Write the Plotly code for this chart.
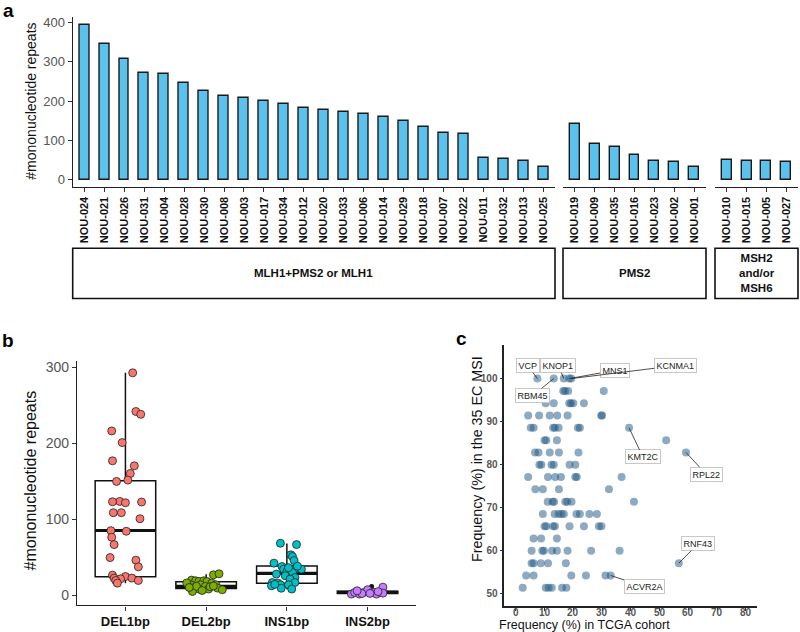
import numpy as np
import plotly.graph_objects as go

# ---------------- Panel a data ----------------
grp1_name = "MLH1+PMS2 or MLH1"
grp1_ids = ["NOU-024","NOU-021","NOU-026","NOU-031","NOU-004","NOU-028","NOU-030","NOU-008",
            "NOU-003","NOU-017","NOU-034","NOU-012","NOU-020","NOU-033","NOU-006","NOU-014",
            "NOU-029","NOU-018","NOU-007","NOU-022","NOU-011","NOU-032","NOU-013","NOU-025"]
grp1_vals = [395,346,308,273,269,247,226,212,208,201,192,182,178,173,167,159,150,133,119,117,55,52,48,31]

grp2_name = "PMS2"
grp2_ids = ["NOU-019","NOU-009","NOU-035","NOU-016","NOU-023","NOU-002","NOU-001"]
grp2_vals = [141,90,82,62,47,46,33]

grp3_name = "MSH2<br>and/or<br>MSH6"
grp3_ids = ["NOU-010","NOU-015","NOU-005","NOU-027"]
grp3_vals = [49,48,47,44]

# ---------------- Panel b data ----------------
b_cats = ["DEL1bp","DEL2bp","INS1bp","INS2bp"]
b_q1 = [24, 8.7, 15.5, 2.0]
b_med = [85, 11.5, 28.5, 3.4]
b_q3 = [150.5, 17.5, 38.3, 5.0]
b_lo = [15.7, 4.5, 7.5, 1.0]
b_hi = [292.5, 27.5, 68, 9.0]

del1_y = [292.5,241.6,237.9,216,200.7,176.7,170.1,160,151.3,149.6,123.3,122.8,122.4,121.5,108.4,108.4,
          100.5,84.8,84,76.1,66.4,49.3,45.9,37.1,26.2,24.4,22.3,22.3,21.4,19.2,19.2,15.7]
del1_dx = [0.09,0.13,0.19,-0.17,-0.04,-0.16,0.11,0.06,0.03,-0.11,-0.07,-0.16,0.20,0.00,-0.15,-0.05,
           0.18,-0.18,0.01,-0.17,-0.14,-0.19,0.13,0.16,-0.16,0.00,-0.14,0.08,-0.06,-0.12,0.16,-0.10]
del2_y = [26.6,28,19.7,18.8,17.9,18.8,17.9,15.7,13.5,13.5,13.5,11.3,9.2,7.9,7.9,9.2,7,4.7,11,11.5,16,6,12,10]
del2_dx = [0.09,0.16,-0.18,-0.13,-0.09,-0.03,0.01,0.07,0.12,-0.19,-0.07,-0.01,-0.17,-0.09,0.03,0.14,
           0.20,-0.17,0.05,-0.12,-0.24,-0.05,0.09,-0.21]
ins1_y = [68.2,66.4,52.9,50.7,45.4,42,37.5,34.1,34.1,34.1,31,29.7,27.6,25.3,23.1,21,16.5,15.7,16.5,
          13.5,12.2,13.5,7.9,9,38,36,14]
ins1_dx = [-0.08,0.12,0.05,0.07,0.09,-0.16,-0.06,0.10,0.18,-0.04,0.00,0.07,-0.13,-0.02,0.10,0.04,
           -0.18,-0.11,0.10,-0.08,-0.19,0.02,0.06,-0.07,0.13,0.02,-0.15]
ins2_y = [1.3,3.4,1.3,3.4,7,3.4,1.3,3.4,10.4,2.5,2,5.6,4.5,2.2]
ins2_dx = [-0.20,-0.16,-0.10,-0.05,0.00,0.08,0.11,0.16,0.19,0.19,-0.07,-0.13,0.13,0.03]
b_outlier_y = [11.3]

# ---------------- Panel c data ----------------
c_x = [7.5,13.2,16.7,18.6,19.3,
       16.5,17.1,18.2,30.6,
       10.4,13.2,18.6,19.2,20.0,23.7,
       4.3,8.1,11.8,14.4,18.0,29.7,30.0,
       5.2,6.2,13.0,13.6,14.9,21.6,22.3,39.4,
       10.0,10.6,14.3,52.3,
       6.7,7.9,11.8,15.0,21.8,59.2,
       8.2,8.9,12.4,13.2,18.7,20.7,
       4.3,11.2,13.7,15.7,20.7,21.2,36.8,
       6.8,9.4,15.0,32.4,
       11.1,12.8,13.3,17.2,17.9,19.4,41.1,
       9.4,13.5,14.9,15.9,16.7,21.1,22.3,25.6,28.2,
       10.0,10.6,13.0,13.6,18.7,23.7,28.9,29.8,
       6.2,8.8,14.3,
       5.5,9.2,9.8,12.6,14.3,18.0,26.2,36.1,
       5.5,6.2,8.7,11.2,17.4,56.7,
       3.6,6.2,19.3,24.4,31.2,33.0,
       2.4,10.4,11.4,12.5,16.1,17.6]
c_n = [5,4,6,7,8,4,6,6,7,4,7,9,8,3,8,6,6,6]
c_levels = [100,97.14,94.29,91.43,88.57,85.71,82.86,80,77.14,74.29,71.43,68.57,65.71,62.86,60,57.14,54.29,51.43]
c_y = [lv for lv, n in zip(c_levels, c_n) for _ in range(n)]
c_xticks = [0, 10, 20, 30, 40, 50, 60, 70, 80]
c_yticks = [50, 60, 70, 80, 90, 100]

genes = ["VCP","KNOP1","MNS1","KCNMA1","RBM45","KMT2C","RPL22","RNF43","ACVR2A"]
gene_x = [7.5,16.7,18.6,19.3,13.2,39.4,59.2,56.7,33.0]
gene_y = [100,100,100,100,100,88.57,82.86,57.14,54.29]
label_pos = [(4.2,103.0),(14.8,103.0),(34.4,101.9),(55.5,103.0),(5.9,96.1),
             (44.2,81.8),(66.2,77.8),(63.5,61.7),(44.6,51.7)]

# ---------------- Figure ----------------
W, H = 800, 632
def px(x): return x / W
def py(y): return 1 - y / H

fig = go.Figure()
BAR = "#5BC2EE"
FONT = "Liberation Sans, Arial, sans-serif"

groups = [(grp1_ids, grp1_vals, "x", (72.7, 555)),
          (grp2_ids, grp2_vals, "x2", (563, 706)),
          (grp3_ids, grp3_vals, "x3", (715, 798))]
for ids, vals, xa, _ in groups:
    fig.add_trace(go.Bar(x=ids, y=vals, xaxis=xa, yaxis="y", width=0.5,
                         marker=dict(color=BAR, line=dict(color="#1a1a1a", width=1.4)),
                         showlegend=False))
    m = float(np.mean(vals))
    n = len(ids)
    fig.add_trace(go.Scatter(x=[-0.58, n - 1 + 0.58], y=[m, m], xaxis=xa, yaxis="y",
                             mode="lines", line=dict(color="#FF3030", width=1.6, dash="7px,4.5px"),
                             showlegend=False, cliponaxis=False))

ya_dom = [py(185.8), py(15)]
axis_common = dict(showline=True, linecolor="#222", linewidth=1.3, ticks="outside",
                   ticklen=4, tickcolor="#333", showgrid=False, zeroline=False)
for (ids, vals, xa, (l, r)) in groups:
    key = "xaxis" if xa == "x" else "xaxis" + xa[1:]
    n = len(ids)
    fig.layout[key] = dict(domain=[px(l), px(r)], anchor="y", type="category",
                           range=[-0.58, n - 1 + 0.58], tickangle=-90,
                           tickfont=dict(family=FONT, size=11, color="#111", weight="bold"),
                           **axis_common)
fig.layout["yaxis"] = dict(domain=ya_dom, anchor="x", range=[-19.75, 414.75],
                           tickvals=[0, 100, 200, 300, 400],
                           tickfont=dict(family=FONT, size=13, color="#555"), **axis_common)

# strip boxes
for (ids, vals, xa, (l, r)), name in zip(groups, [grp1_name, grp2_name, grp3_name]):
    fig.add_shape(type="rect", xref="paper", yref="paper", x0=px(l), x1=px(r),
                  y0=py(297.5), y1=py(247), line=dict(color="#111", width=1.6),
                  fillcolor="white")
    fig.add_annotation(xref="paper", yref="paper", x=(px(l) + px(r)) / 2, y=py(272),
                       xanchor="center", yanchor="middle", align="center",
                       text="<b>" + name + "</b>", showarrow=False,
                       font=dict(family="Liberation Sans Narrow, " + FONT, size=11.5, color="#111"))

# ---------------- Panel b ----------------
colors_b = ["#F8766D", "#7CAE00", "#00BFC4", "#C77CFF"]
for i in range(4):
    fig.add_trace(go.Box(x=[i + 1], q1=[b_q1[i]], median=[b_med[i]], q3=[b_q3[i]],
                         lowerfence=[b_lo[i]], upperfence=[b_hi[i]], width=0.75,
                         whiskerwidth=0, fillcolor="white", boxpoints=False,
                         line=dict(color="#111", width=1.5), xaxis="x4", yaxis="y4",
                         showlegend=False, hoverinfo="skip"))
    fig.add_trace(go.Scatter(x=[i + 1 - 0.375, i + 1 + 0.375], y=[b_med[i], b_med[i]],
                             mode="lines", line=dict(color="#111", width=3.2),
                             xaxis="x4", yaxis="y4", showlegend=False))
fig.add_trace(go.Scatter(x=[4.05], y=b_outlier_y, mode="markers",
                         marker=dict(color="#111", size=5), xaxis="x4", yaxis="y4",
                         showlegend=False))
for i, (ys, dxs) in enumerate([(del1_y, del1_dx), (del2_y, del2_dx), (ins1_y, ins1_dx), (ins2_y, ins2_dx)]):
    fig.add_trace(go.Scatter(x=[i + 1 + d for d in dxs], y=ys, mode="markers",
                             marker=dict(color=colors_b[i], size=8,
                                         line=dict(color="#222", width=0.8)),
                             xaxis="x4", yaxis="y4", showlegend=False))

fig.layout["xaxis4"] = dict(domain=[px(77), px(416)], anchor="y4", range=[0.4, 4.6],
                            tickvals=[1, 2, 3, 4], ticktext=["<b>%s</b>" % c for c in b_cats],
                            tickfont=dict(family=FONT, size=13, color="#111"), **axis_common)
fig.layout["yaxis4"] = dict(domain=[py(605.3), py(360.5)], anchor="x4", range=[-13.6, 307.6],
                            tickvals=[0, 100, 200, 300],
                            tickfont=dict(family=FONT, size=14, color="#555"), **axis_common)

# ---------------- Panel c ----------------
fig.add_trace(go.Scatter(x=c_x, y=c_y, mode="markers", xaxis="x5", yaxis="y5",
                         marker=dict(color="rgba(30,85,130,0.5)", size=8, line=dict(width=0)),
                         showlegend=False))
for g, gx, gy, (lx, ly) in zip(genes, gene_x, gene_y, label_pos):
    fig.add_annotation(x=gx, y=gy, xref="x5", yref="y5", ax=lx, ay=ly, axref="x5", ayref="y5",
                       text=g, showarrow=True, arrowhead=0, arrowwidth=0.8, arrowcolor="#222",
                       bgcolor="white", bordercolor="#c8c8c8", borderwidth=1, borderpad=1.5,
                       font=dict(family=FONT, size=9, color="#222"))

c_axis = dict(axis_common)
c_axis.update(linewidth=1.6, ticklen=3)
fig.layout["xaxis5"] = dict(domain=[px(504.3), px(757.3)], anchor="y5", range=[-4, 84],
                            tickvals=c_xticks, showticklabels=False, **c_axis)
fig.layout["yaxis5"] = dict(domain=[py(605.7), py(344.3)], anchor="x5", range=[47.25, 107.75],
                            tickvals=c_yticks,
                            tickfont=dict(family=FONT, size=10, color="#555", weight="bold"), **c_axis)
# x tick labels of panel c placed tight under the axis (positions from the axis scale)
for v in c_xticks:
    fig.add_annotation(x=v, xref="x5", y=py(612.5), yref="paper", text=str(v),
                       showarrow=False, xanchor="center", yanchor="middle", borderpad=0,
                       font=dict(family=FONT, size=10, color="#555", weight="bold"))

# ---------------- titles / labels ----------------
def ann(x, y, text, size, angle=0, bold=False, color="#111"):
    fig.add_annotation(xref="paper", yref="paper", x=px(x), y=py(y), text=text,
                       xanchor="center", yanchor="middle", borderpad=0,
                       showarrow=False, textangle=angle,
                       font=dict(family=FONT, size=size, color=color,
                                 weight="bold" if bold else "normal"))

ann(31, 100, "#mononucleotide repeats", 14, angle=-90)
ann(30, 480, "#mononucleotide repeats", 16, angle=-90)
ann(476.5, 458, "Frequency (%) in the 35 EC MSI", 14.3, angle=-90)
ann(584, 625, "Frequency (%) in TCGA cohort", 12.5)
ann(8, 9, "a", 19, bold=True, color="#000")
ann(8, 340, "b", 19, bold=True, color="#000")
ann(461, 338, "c", 19, bold=True, color="#000")

fig.update_layout(width=W, height=H, margin=dict(l=0, r=0, t=0, b=0),
                  paper_bgcolor="white", plot_bgcolor="white", showlegend=False,
                  bargap=0)
fig.write_html("out.html", config={"displayModeBar": False},
               post_script="document.body.style.margin='0';document.body.style.overflow='hidden';")
